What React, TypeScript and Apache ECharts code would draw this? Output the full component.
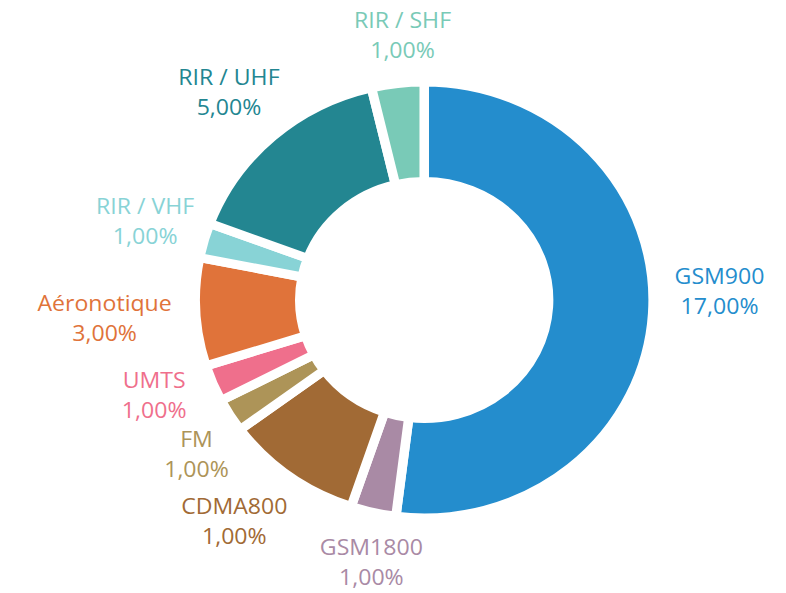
import React, { useEffect, useRef } from 'react';
import * as echarts from 'echarts';

// Data (clockwise from 12 o'clock)
const categories = ['GSM900', 'GSM1800', 'CDMA800', 'FM', 'UMTS', 'Aéronotique', 'RIR / VHF', 'RIR / UHF', 'RIR / SHF'];
const sliceValues = [52, 3.2, 9.7, 2.5, 2.75, 8, 2.6, 15.6, 3.7];
const shownPercents = ['17,00%', '1,00%', '1,00%', '1,00%', '1,00%', '3,00%', '1,00%', '5,00%', '1,00%'];
const colors = ['#248dcd', '#a98aa5', '#a16a35', '#ad9458', '#ef6f8c', '#e0733a', '#88d3d6', '#238691', '#79cab7'];

// Layout
const STRETCH = 1.05;
const W = 786 / STRETCH;
const H = 593;
const CX = 404;
const CY = 300;
const BORDER = 9;
const R_OUT = 218;
const R_IN = 118.5;
const R_VIS = R_OUT - BORDER / 2;
const LABEL_GAP = 23;
const LINE_H = 30;
// hand placement tweaks of the labels (degrees along the ring, px outward)
const LABEL_NUDGE_DEG = [-5.4, -2.0, 3.3, -3.4, 2.4, -0.2, 0.7, -0.4, 2.2];
const LABEL_NUDGE_R = [1.4, -1.4, -1.3, -9.0, 0.6, 3.2, -10.6, -6.7, 2.6];

export default function App() {
  const ref = useRef<HTMLDivElement>(null);

  useEffect(() => {
    if (!ref.current) return;
    const chart = echarts.init(ref.current, undefined, { renderer: 'svg' });

    const total = sliceValues.reduce((a, b) => a + b, 0);
    const midAngles: number[] = [];
    let acc = 0;
    sliceValues.forEach((v) => {
      midAngles.push(((acc + v / 2) / total) * 360);
      acc += v;
    });

    chart.setOption({
      animation: false,
      backgroundColor: '#ffffff',
      series: [
        {
          type: 'pie',
          center: [CX, CY],
          radius: [R_IN, R_OUT],
          startAngle: 90,
          clockwise: true,
          avoidLabelOverlap: false,
          silent: true,
          itemStyle: { borderColor: '#ffffff', borderWidth: BORDER },
          label: {
            show: true,
            position: 'outside',
            fontFamily: 'Open Sans',
            fontSize: 22,
            lineHeight: LINE_H,
            formatter: (p: any) => `{a|${p.name}}\n{a|${shownPercents[p.dataIndex]}}`,
            rich: {
              a: { align: 'center', fontFamily: 'Open Sans', fontSize: 22, lineHeight: LINE_H },
            },
          },
          labelLine: { show: false },
          labelLayout: (params: any) => {
            const i = params.dataIndex;
            const rad = ((midAngles[i] + LABEL_NUDGE_DEG[i]) * Math.PI) / 180;
            const ux = Math.sin(rad);
            const uy = -Math.cos(rad);
            const hw = params.labelRect.width / 2;
            const hh = params.labelRect.height / 2 - 7;
            const t = R_VIS + LABEL_GAP + LABEL_NUDGE_R[i] + Math.abs(ux) * hw + Math.abs(uy) * hh;
            return { x: CX + ux * t, y: CY + uy * t, align: 'center', verticalAlign: 'middle' };
          },
          data: categories.map((name, i) => ({
            name,
            value: sliceValues[i],
            itemStyle: { color: colors[i] },
            label: { color: colors[i] },
          })),
        },
      ],
    });

    return () => chart.dispose();
  }, []);

  return (
    <div
      ref={ref}
      style={{
        position: 'absolute',
        left: 0,
        top: 0,
        width: W,
        height: H,
        transform: `scaleX(${STRETCH})`,
        transformOrigin: '0 0',
      }}
    />
  );
}
